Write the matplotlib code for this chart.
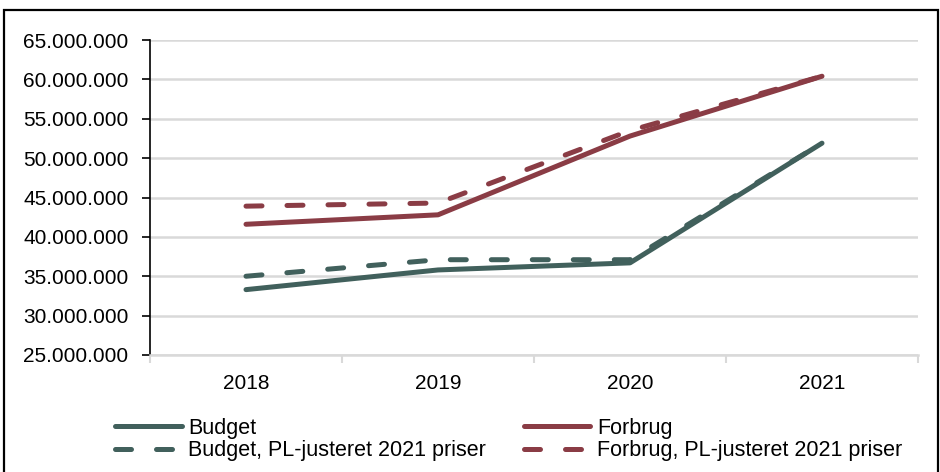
import matplotlib
matplotlib.use("Agg")
import matplotlib.pyplot as plt
from matplotlib.patches import Rectangle
from matplotlib.ticker import FuncFormatter, FixedLocator

plt.rcParams['font.family'] = ['Liberation Sans', 'DejaVu Sans']

years = ["2018", "2019", "2020", "2021"]
budget = [33.3e6, 35.8e6, 36.7e6, 51.9e6]
forbrug = [41.6e6, 42.8e6, 52.8e6, 60.4e6]
budget_pl = [35.0e6, 37.1e6, 37.1e6, 51.9e6]
forbrug_pl = [43.9e6, 44.3e6, 53.5e6, 60.4e6]

labels = ["Budget", "Forbrug", "Budget, PL-justeret 2021 priser", "Forbrug, PL-justeret 2021 priser"]

green = "#41605C"
red = "#8A3C45"

fig = plt.figure(figsize=(9.4, 4.72), dpi=100)
ax = fig.add_axes([150/940, 1-355/472, (918-150)/940, (355-40)/472])

x = list(range(len(years)))
lw = 3.6
l1, = ax.plot(x, budget, color=green, lw=lw, solid_capstyle='round', solid_joinstyle='round', label=labels[0])
l2, = ax.plot(x, forbrug, color=red, lw=lw, solid_capstyle='round', solid_joinstyle='round', label=labels[1])
l3, = ax.plot(x, budget_pl, color=green, lw=lw, dashes=(3.2, 5.0), dash_capstyle='round', label=labels[2])
l4, = ax.plot(x, forbrug_pl, color=red, lw=lw, dashes=(3.2, 5.0), dash_capstyle='round', label=labels[3])

ax.set_xlim(-0.5, len(years) - 0.5)
ax.set_ylim(25e6, 65e6)
ax.set_yticks([25e6 + 5e6*i for i in range(9)])
ax.yaxis.set_major_formatter(FuncFormatter(lambda v, p: f"{v:,.0f}".replace(",", ".")))
ax.set_xticks(x)
ax.set_xticklabels(years)
ax.xaxis.set_minor_locator(FixedLocator([i - 0.5 for i in range(len(years) + 1)]))
ax.tick_params(axis='x', which='major', length=0, pad=14, labelsize=15)
ax.tick_params(axis='x', which='minor', length=6, color='#D9D9D9', width=1.5)
ax.tick_params(axis='y', length=6, width=1.2, color='black', labelsize=15, pad=9.5)

ax.grid(axis='y', color='#D9D9D9', lw=1.8)
ax.set_axisbelow(True)
for s in ['top', 'right']:
    ax.spines[s].set_visible(False)
ax.spines['bottom'].set_color('#D9D9D9')
ax.spines['bottom'].set_linewidth(1.8)
ax.spines['left'].set_color('black')
ax.spines['left'].set_linewidth(1.2)

fig.legend(handles=[l1, l3, l2, l4], labels=[labels[0], labels[2], labels[1], labels[3]],
           ncol=2, loc='upper left', bbox_to_anchor=(115/940, 1-418/472), frameon=False,
           fontsize=15.5, handlelength=3.1, handletextpad=0.3, columnspacing=1.75,
           labelspacing=0.05, borderpad=0, borderaxespad=0)

fig.add_artist(Rectangle((4/940, -0.02), 934/940, 1.02 - 10/472, transform=fig.transFigure,
                         fill=False, lw=1.6, edgecolor='black', clip_on=False))

fig.savefig("out.png", dpi=100)
